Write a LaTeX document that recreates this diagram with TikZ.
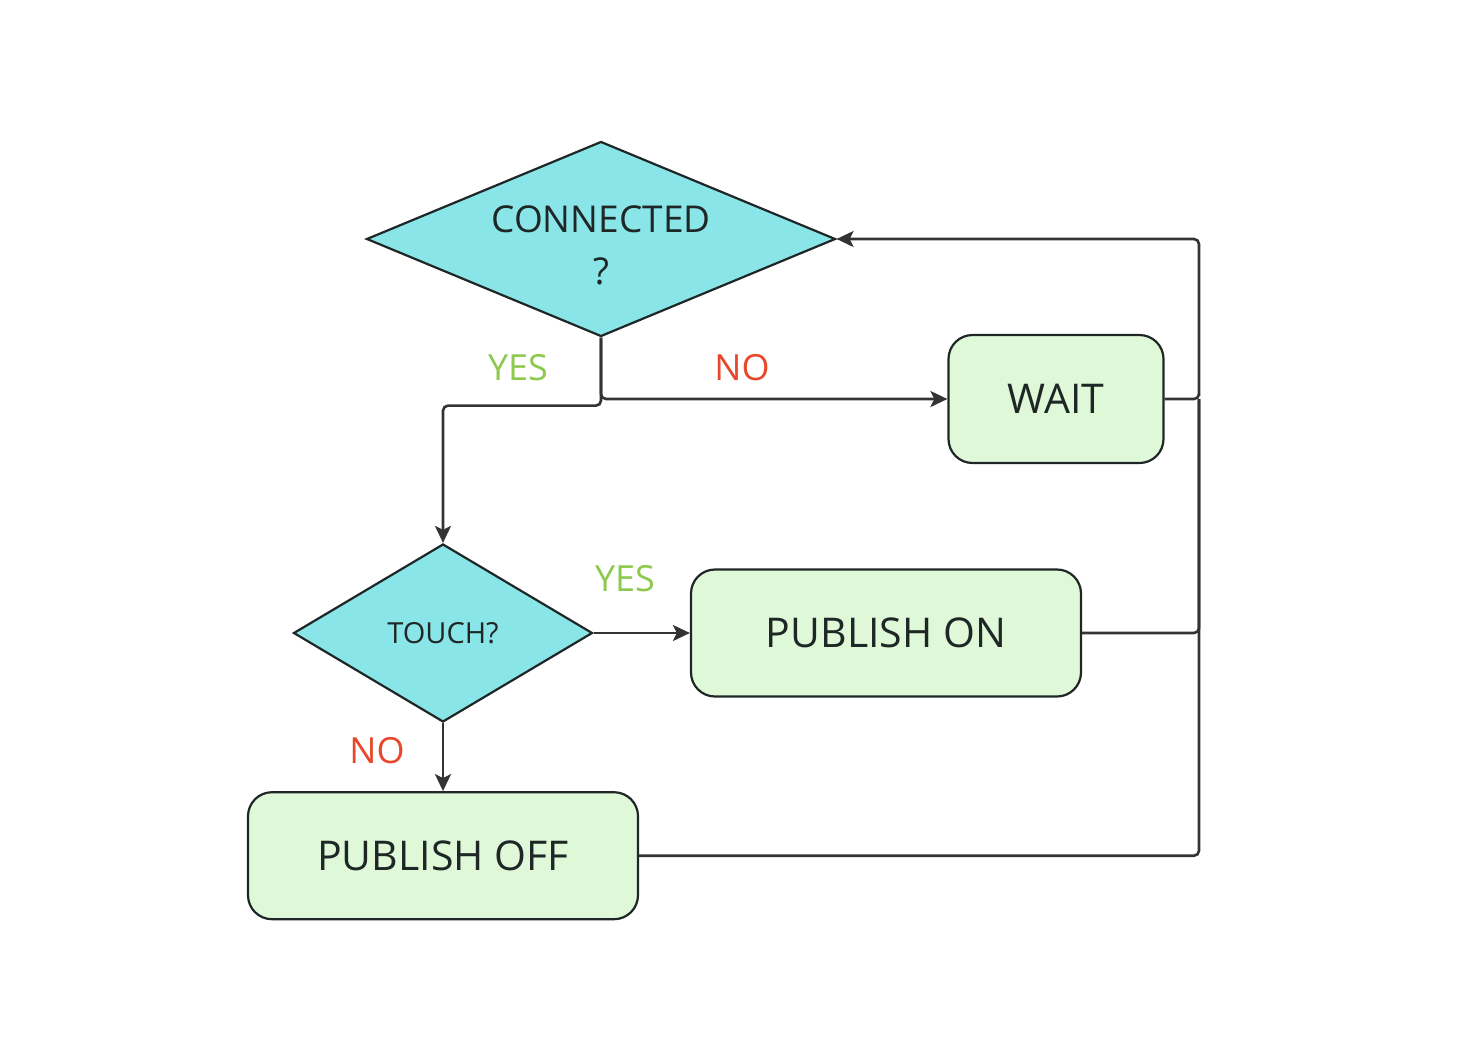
\documentclass[tikz,border=0pt]{standalone}
\usepackage{fontspec}
\setmainfont{Open Sans}
\usetikzlibrary{
  arrows.meta,
  positioning,
  shapes.geometric
}
\definecolor{decfill}{HTML}{8AE5E8}
\definecolor{procfill}{HTML}{DFF9D8}
\definecolor{linegray}{HTML}{333333}
\definecolor{inkdark}{HTML}{1E2626}
\definecolor{yesgreen}{HTML}{8DC94E}
\definecolor{nored}{HTML}{E8472B}

\begin{document}
\begin{tikzpicture}[
            x=1pt, y=-1pt,
            font=\fontsize{37}{52}\selectfont,
            text=inkdark,
            % Stili dei nodi
            decision/.style={diamond, draw=inkdark, line width=2.2pt, fill=decfill, inner sep=0pt, text centered, align=center},
            process/.style={rectangle, rounded corners=24pt, draw=inkdark, line width=2.2pt, fill=procfill, minimum width=390pt, minimum height=127pt, text centered, font=\fontsize{41}{48}\selectfont},
            arrow/.style={draw=linegray, line width=2.6pt, rounded corners=5pt, -{Stealth[length=17pt, width=16pt, inset=4pt]}},
            line/.style={draw=linegray, line width=2.6pt, rounded corners=5pt},
            yeslabel/.style={text=yesgreen, font=\fontsize{36}{40}\selectfont},
            nolabel/.style={text=nored, font=\fontsize{36}{40}\selectfont}
        ]
        \useasboundingbox (0,0) rectangle (1476,1058);

        % Nodi
        \node (connected) [decision, minimum width=469pt, minimum height=195pt,
              label={[align=center, yshift=-6pt]center:CONNECTED\\?}] at (601,239) {};
        \node (wait) [process, minimum width=215pt, minimum height=128pt] at (1056,399) {WAIT};
        \node (touch) [decision, minimum width=299pt, minimum height=178pt, font=\fontsize{29}{32}\selectfont] at (443,633) {TOUCH?};
        \node (pubon) [process] at (886,633) {PUBLISH ON};
        \node (puboff) [process, below=68pt of touch.south, anchor=north] {PUBLISH OFF};

        \coordinate (bus) at (1199,399);

        % Collegamenti
        \draw [arrow] (connected.south) |- (wait.west);
        \draw [arrow] (connected.south) -- ++(0,68) -| (touch.north);
        \draw [arrow] (touch.east) -- (pubon.west);
        \draw [arrow] (touch.south) -- (puboff.north);

        % Ritorno
        \draw [arrow] (wait.east) -| (bus) |- (connected.east);
        \draw [line] (pubon.east) -| (bus);
        \draw [line] (puboff.east) -| (bus);

        % Etichette
        \node (yes1) [yeslabel] at (518,368) {YES};
        \node (no1) [nolabel] at (742,368) {NO};
        \node (yes2) [yeslabel] at (625,579) {YES};
        \node (no2) [nolabel] at (377,751) {NO};

    \end{tikzpicture}
\end{document}
